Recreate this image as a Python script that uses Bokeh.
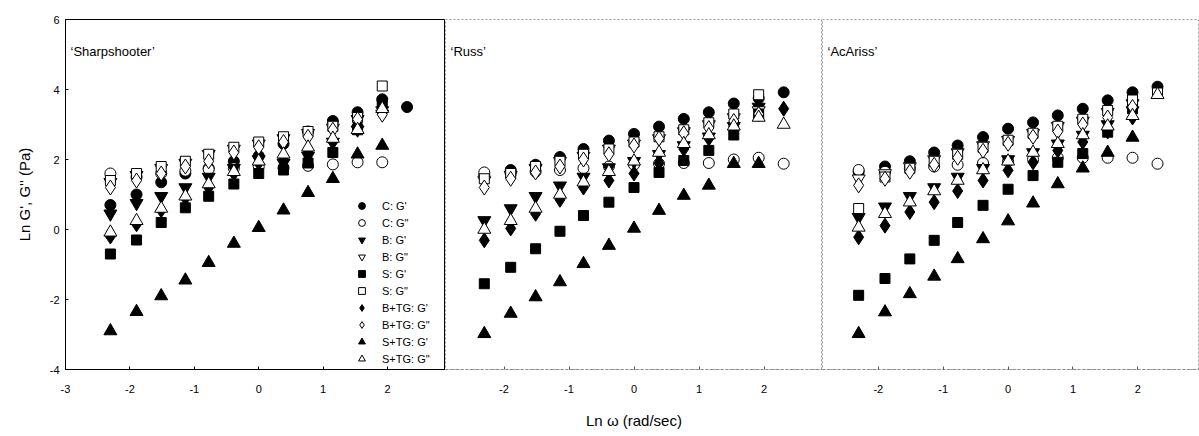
from bokeh.plotting import figure
from bokeh.layouts import row
from bokeh.models import Range1d, FixedTicker, Legend, LegendItem, Label, PrintfTickFormatter
from bokeh.embed import file_html
from bokeh.resources import INLINE

nan = float("nan")
FONT = "Liberation Sans"

# ln(omega) values (rad/sec)
ln_omega = [-2.303, -1.897, -1.514, -1.139, -0.777, -0.386, 0.0, 0.385, 0.766, 1.151, 1.535, 1.918, 2.303]

series_names = ["C: G'", 'C: G"', "B: G'", 'B: G"', "S: G'", 'S: G"',
                "B+TG: G'", 'B+TG: G"', "S+TG: G'", 'S+TG: G"']
markers = ["circle", "circle", "inverted_triangle", "inverted_triangle", "square", "square",
           "diamond", "diamond", "triangle", "triangle"]
filled = [True, False, True, False, True, False, True, False, True, False]

panel_titles = ["\u2018Sharpshooter\u2019", "\u2018Russ\u2019", "\u2018AcAriss\u2019"]

# Panel 1: Sharpshooter
sharp_C_Gp = [0.7, 1.0, 1.35, 1.6, 1.75, 1.95, 2.1, 2.45, 2.8, 3.1, 3.35, 3.72, 3.5]
sharp_C_Gpp = [1.6, 1.5, 1.6, 1.68, 1.72, 1.75, 1.8, 1.76, 1.82, 1.86, 1.92, 1.92, nan]
sharp_B_Gp = [0.45, 0.75, 0.95, 1.2, 1.5, 1.75, 2.0, 1.9, 2.1, 2.5, 2.85, 3.3, nan]
sharp_B_Gpp = [1.35, 1.55, 1.75, 1.9, 2.15, 2.3, 2.45, 2.6, 2.75, 2.9, 3.15, 3.4, nan]
sharp_S_Gp = [-0.7, -0.3, 0.2, 0.62, 0.95, 1.3, 1.6, 1.7, 1.9, 2.2, 2.85, 3.6, nan]
sharp_S_Gpp = [1.4, 1.6, 1.8, 1.95, 2.15, 2.35, 2.5, 2.65, 2.8, 2.95, 3.2, 4.1, nan]
sharp_BTG_Gp = [-0.2, 0.15, 0.55, 0.9, 1.2, 1.6, 1.9, 2.0, 2.2, 2.5, 3.0, 3.5, nan]
sharp_BTG_Gpp = [1.2, 1.4, 1.6, 1.8, 1.95, 2.2, 2.35, 2.5, 2.65, 2.85, 3.15, 3.28, nan]
sharp_STG_Gp = [-2.9, -2.35, -1.9, -1.45, -0.95, -0.4, 0.05, 0.55, 1.05, 1.45, 2.15, 2.4, nan]
sharp_STG_Gpp = [-0.08, 0.25, 0.6, 0.95, 1.3, 1.65, 1.95, 2.15, 2.35, 2.6, 2.85, 3.45, nan]

# Panel 2: Russ
russ_C_Gp = [1.55, 1.7, 1.85, 2.07, 2.3, 2.54, 2.73, 2.94, 3.16, 3.35, 3.6, 3.75, 3.92]
russ_C_Gpp = [1.63, 1.6, 1.65, 1.7, 1.75, 1.8, 1.85, 1.88, 1.9, 1.9, 2.0, 2.05, 1.88]
russ_B_Gp = [0.26, 0.6, 0.95, 1.25, 1.5, 1.77, 1.95, 2.15, 2.4, 2.65, 2.95, 3.5, nan]
russ_B_Gpp = [1.4, 1.55, 1.75, 1.95, 2.1, 2.3, 2.45, 2.6, 2.8, 3.0, 3.2, 3.4, nan]
russ_S_Gp = [-1.55, -1.08, -0.55, -0.05, 0.4, 0.78, 1.2, 1.63, 1.97, 2.26, 2.7, 3.3, nan]
russ_S_Gpp = [1.45, 1.6, 1.8, 1.95, 2.15, 2.3, 2.5, 2.65, 2.85, 3.05, 3.3, 3.85, nan]
russ_BTG_Gp = [-0.31, 0.03, 0.45, 0.85, 1.2, 1.4, 1.6, 1.9, 2.3, 2.6, 2.95, 3.3, 3.45]
russ_BTG_Gpp = [1.2, 1.45, 1.63, 1.8, 2.0, 2.15, 2.4, 2.6, 2.75, 2.9, 3.1, 3.3, nan]
russ_STG_Gp = [-2.98, -2.4, -1.93, -1.5, -0.98, -0.46, 0.03, 0.54, 0.97, 1.26, 1.88, 1.88, nan]
russ_STG_Gpp = [0.0, 0.25, 0.6, 1.0, 1.35, 1.65, 1.95, 2.2, 2.45, 2.7, 2.95, 3.2, 3.0]

# Panel 3: AcAriss
acar_C_Gp = [1.65, 1.8, 1.95, 2.2, 2.4, 2.64, 2.88, 3.06, 3.26, 3.45, 3.69, 3.92, 4.08]
acar_C_Gpp = [1.7, 1.65, 1.75, 1.8, 1.85, 1.9, 1.95, 2.0, 2.05, 2.05, 2.05, 2.05, 1.88]
acar_B_Gp = [0.35, 0.65, 0.95, 1.2, 1.5, 1.75, 2.0, 2.2, 2.45, 2.7, 3.0, 3.4, nan]
acar_B_Gpp = [1.45, 1.6, 1.8, 2.0, 2.2, 2.4, 2.55, 2.75, 2.95, 3.1, 3.35, 3.6, nan]
acar_S_Gp = [-1.88, -1.4, -0.84, -0.31, 0.2, 0.69, 1.15, 1.54, 1.92, 2.17, 2.78, 3.45, nan]
acar_S_Gpp = [0.6, 1.5, 1.75, 1.95, 2.15, 2.35, 2.55, 2.75, 2.95, 3.15, 3.4, 3.7, 3.9]
acar_BTG_Gp = [-0.22, 0.11, 0.5, 0.78, 1.1, 1.4, 1.69, 1.92, 2.26, 2.5, 2.8, 3.2, nan]
acar_BTG_Gpp = [1.26, 1.45, 1.65, 1.85, 2.05, 2.25, 2.45, 2.65, 2.8, 3.0, 3.2, 3.5, nan]
acar_STG_Gp = [-2.98, -2.36, -1.84, -1.34, -0.84, -0.27, 0.24, 0.75, 1.3, 1.75, 2.2, 2.63, nan]
acar_STG_Gpp = [0.06, 0.45, 0.78, 1.1, 1.4, 1.7, 1.95, 2.2, 2.45, 2.7, 2.95, 3.25, 3.85]

panels = [
    [sharp_C_Gp, sharp_C_Gpp, sharp_B_Gp, sharp_B_Gpp, sharp_S_Gp, sharp_S_Gpp,
     sharp_BTG_Gp, sharp_BTG_Gpp, sharp_STG_Gp, sharp_STG_Gpp],
    [russ_C_Gp, russ_C_Gpp, russ_B_Gp, russ_B_Gpp, russ_S_Gp, russ_S_Gpp,
     russ_BTG_Gp, russ_BTG_Gpp, russ_STG_Gp, russ_STG_Gpp],
    [acar_C_Gp, acar_C_Gpp, acar_B_Gp, acar_B_Gpp, acar_S_Gp, acar_S_Gpp,
     acar_BTG_Gp, acar_BTG_Gpp, acar_STG_Gp, acar_STG_Gpp],
]

x_ticks = [[-3, -2, -1, 0, 1, 2], [-2, -1, 0, 1, 2], [-2, -1, 0, 1, 2, 3]]
y_ticks = [-4, -2, 0, 2, 4, 6]
x_ranges = [(-3.0, 2.9), (-2.9, 2.9), (-2.86, 2.95)]
frame_widths = [380, 377, 377]

sizes = {"circle": 11, "inverted_triangle": 13, "square": 10, "diamond": 15, "triangle": 13}

figs = []
for i in range(3):
    p = figure(frame_width=frame_widths[i], frame_height=350,
               x_range=Range1d(*x_ranges[i]), y_range=Range1d(-4, 6),
               output_backend="svg", toolbar_location=None,
               min_border_left=65 if i == 0 else 0, min_border_right=0,
               min_border_top=19, min_border_bottom=62)
    p.grid.visible = False
    p.background_fill_color = "white"
    p.border_fill_color = "white"
    if i == 0:
        p.outline_line_color = "black"
        p.outline_line_width = 1
    else:
        p.outline_line_color = "#9a9a9a"
        p.outline_line_dash = "2 2"
    p.xaxis.ticker = FixedTicker(ticks=x_ticks[i])
    p.yaxis.ticker = FixedTicker(ticks=y_ticks)
    p.xaxis.formatter = PrintfTickFormatter(format="%d")
    p.yaxis.formatter = PrintfTickFormatter(format="%d")
    for ax in [p.xaxis, p.yaxis]:
        ax.major_label_text_font = FONT
        ax.major_label_text_font_size = "11px"
        ax.major_label_text_color = "black"
        ax.minor_tick_line_color = None
        ax.major_tick_in = 3
        ax.major_tick_out = 0
        ax.axis_label_text_font = FONT
        ax.axis_label_text_font_style = "normal"
        ax.axis_label_text_font_size = "15px"
        ax.axis_label_text_color = "black"
    p.xaxis.major_label_standoff = 15
    if i == 0:
        p.yaxis.axis_label = "Ln G', G'' (Pa)"
        p.yaxis.axis_label_standoff = 14
        p.yaxis.major_label_standoff = 6
        p.xaxis.axis_line_color = "black"
        p.yaxis.axis_line_color = "black"
    else:
        p.yaxis.visible = False
        p.xaxis.axis_line_color = "#8a8a8a"
        p.xaxis.axis_line_dash = "3 2"
        p.xaxis.major_tick_line_color = "#555555"
    if i == 1:
        p.xaxis.axis_label = "Ln \u03c9 (rad/sec)"
        p.xaxis.axis_label_standoff = 16
    items = []
    for k in range(10):
        m = markers[k]
        r = p.scatter(ln_omega, panels[i][k], marker=m, size=sizes[m],
                      fill_color="black" if filled[k] else "white",
                      line_color="black", line_width=1)
        items.append(LegendItem(label=series_names[k], renderers=[r]))
    if i == 0:
        leg = Legend(items=items, location=(288, 2), border_line_color=None,
                     background_fill_alpha=0, padding=0, margin=0, spacing=0,
                     glyph_height=17, glyph_width=17, label_height=17,
                     label_standoff=12, label_text_font=FONT,
                     label_text_font_size="11px", label_text_color="black")
        p.add_layout(leg, "center")
    p.add_layout(Label(x=5, y=311, x_units="screen", y_units="screen",
                       text=panel_titles[i], text_font=FONT,
                       text_font_size="13px", text_color="black"))
    figs.append(p)

layout = row(*figs, spacing=0)
open("out.html", "w").write(file_html(layout, INLINE))
